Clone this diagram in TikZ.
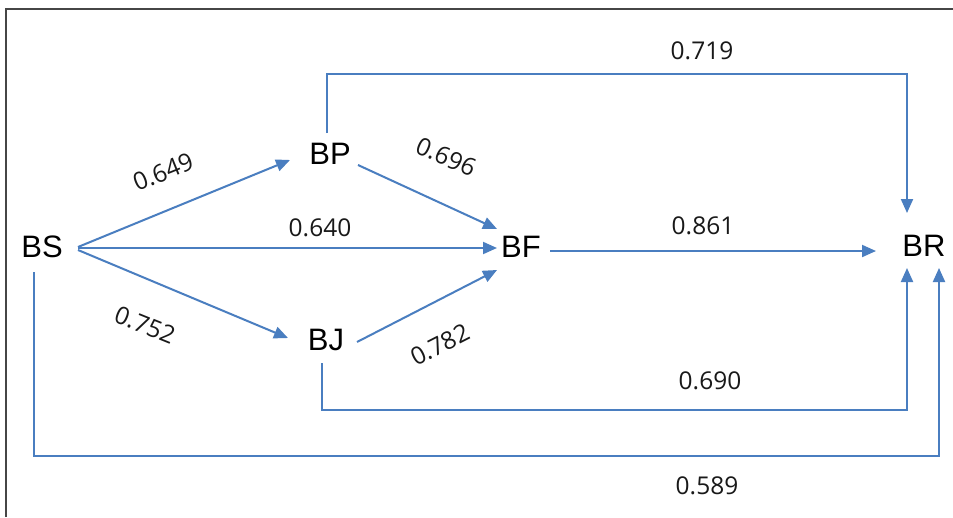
\documentclass[tikz,border=0pt]{standalone}
\usepackage{fontspec}
\setmainfont{Liberation Sans}
\newfontfamily\numfont{Open Sans}
\usetikzlibrary{arrows.meta,calc}
\definecolor{arrowblue}{RGB}{74,126,192}
\definecolor{framegray}{RGB}{70,70,70}
\tikzset{
  var/.style={inner sep=0pt, outer sep=0pt, font=\fontsize{31}{37}\selectfont, text=black},
  coef/.style={inner sep=0pt, font=\numfont\fontsize{24.5}{30}\selectfont, text=black!90},
  link/.style={draw=arrowblue, line width=2pt, -{Triangle[length=14pt,width=12pt]}},
}
\begin{document}
\begin{tikzpicture}[x=1pt,y=-1pt]
\useasboundingbox (0,0) rectangle (953,517);
\fill[white] (0,0) rectangle (953,517);
\draw[framegray, line width=1.4pt] (6,517) -- (6,9) -- (953,9);

\node[var] (BS) at (42,247) {BS};
\node[var] (BP) at (330,154) {BP};
\node[var] (BF) at (521,247) {BF};
\node[var] (BJ) at (326,340) {BJ};
\node[var] (BR) at (924,246) {BR};

\draw[link] ($(BS)+(36,0)$) -- ($(BP)+(-40,6)$);
\draw[link] ($(BS)+(36,1)$) -- ($(BF)+(-24,1)$);
\draw[link] ($(BS)+(36,3)$) -- ($(BJ)+(-38,-2)$);
\draw[link] ($(BP)+(28,11)$) -- ($(BF)+(-24,-18)$);
\draw[link] ($(BJ)+(31,2)$) -- ($(BF)+(-24,23)$);
\draw[link] ($(BF)+(29,4)$) -- ($(BR)+(-48,5)$);
\draw[link] ($(BP)+(-3,-21)$) |- ($(BR)+(-17,-172)$) -- ($(BR)+(-17,-33)$);
\draw[link] ($(BJ)+(-4,23)$) |- ($(BR)+(-17,164)$) -- ($(BR)+(-17,22)$);
\draw[link] ($(BS)+(-8,25)$) |- ($(BR)+(15,210)$) -- ($(BR)+(15,22)$);

\node[coef] (c719) at (702,51) {0.719};
\node[coef, rotate=22] (c649) at (163,172) {0.649};
\node[coef, rotate=-24] (c696) at (446,157) {0.696};
\node[coef] (c640) at (320,228) {0.640};
\node[coef] (c861) at (703,226) {0.861};
\node[coef, rotate=-22] (c752) at (145,325) {0.752};
\node[coef, rotate=27] (c782) at (440,345) {0.782};
\node[coef] (c690) at (710,381) {0.690};
\node[coef] (c589) at (707,486) {0.589};
\end{tikzpicture}
\end{document}
